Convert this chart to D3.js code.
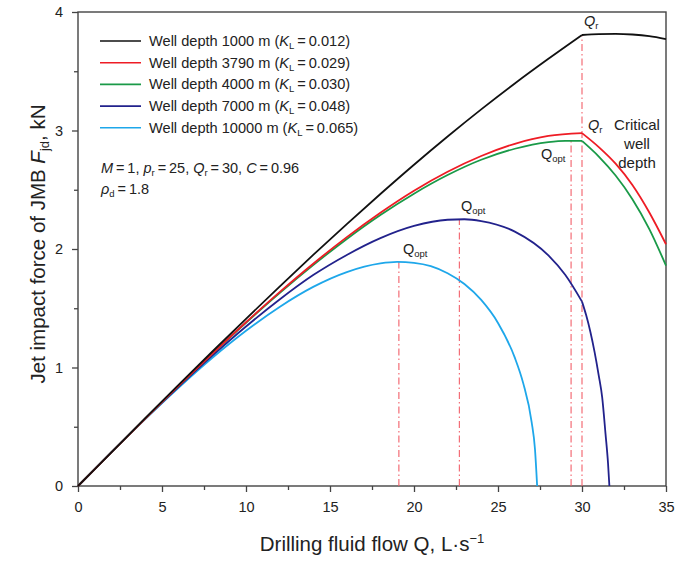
<!DOCTYPE html>
<html><head><meta charset="utf-8">
<script src="https://cdn.jsdelivr.net/npm/d3@7"></script>
<style>
body{margin:0;background:#fff}
text{font-family:"Liberation Sans",Arial,sans-serif;fill:#222}
</style>
</head><body>
<svg id="c" width="690" height="562"></svg>
<script>
// ---- data ----
const xTicks = [0, 5, 10, 15, 20, 25, 30, 35];
const yTicks = [0, 1, 2, 3, 4];

// Well depth 1000 m (K_L = 0.012)
const qBlackA = [0,2,4,6,8,10,12,14,16,18,20,22,24,26,28,30];
const fBlackA = [0,0.286,0.572,0.855,1.135,1.411,1.683,1.950,2.210,2.464,2.711,2.949,3.178,3.397,3.605,3.806];
const qBlackB = [30,31,32,33,34,35];
const fBlackB = [3.806,3.813,3.815,3.810,3.797,3.772];

// Well depth 3790 m (K_L = 0.029)
const qRedA = [0,2,4,6,8,10,12,14,16,18,20,22,24,26,28,30];
const fRedA = [0,0.286,0.569,0.847,1.118,1.382,1.636,1.876,2.100,2.306,2.492,2.652,2.785,2.888,2.954,2.978];
const qRedB = [30,31,32,33,34,35];
const fRedB = [2.978,2.860,2.720,2.540,2.310,2.040];

// Well depth 4000 m (K_L = 0.030)
const qGreenA = [0,2,4,6,8,10,12,14,16,18,20,22,24,26,28,29,30];
const fGreenA = [0,0.286,0.569,0.847,1.117,1.378,1.628,1.864,2.085,2.287,2.467,2.624,2.753,2.846,2.902,2.913,2.912];
const qGreenB = [30,31,32,33,34,35];
const fGreenB = [2.912,2.780,2.620,2.420,2.170,1.860];

// Well depth 7000 m (K_L = 0.048)
const qBlueA = [0,2,4,6,8,10,12,14,16,18,20,22,23,24,26,28,29,30];
const fBlueA = [0,0.286,0.567,0.839,1.100,1.346,1.574,1.780,1.950,2.092,2.195,2.247,2.251,2.236,2.147,1.946,1.782,1.556];
const qBlueB = [30,30.25,30.5,30.75,31,31.2,31.4,31.55,31.63];
const fBlueB = [1.556,1.440,1.300,1.130,0.930,0.750,0.440,0.190,0];

// Well depth 10000 m (K_L = 0.065)
const qCyan = [0,2,4,6,8,10,12,14,16,18,19,20,21,22,23,24,25,26,26.5,27,27.2,27.33];
const fCyan = [0,0.285,0.564,0.831,1.082,1.310,1.511,1.680,1.805,1.878,1.891,1.883,1.855,1.795,1.704,1.570,1.376,1.083,0.868,0.542,0.312,0];

// Q_opt / Q_r markers (dash-dot)
const markQ = [19.1, 22.7, 29.35, 30];
const markF = [1.891, 2.251, 2.913, 3.806];

const seriesNames = ["Well depth 1000 m", "Well depth 3790 m", "Well depth 4000 m", "Well depth 7000 m", "Well depth 10000 m"];
const seriesKL = ["0.012", "0.029", "0.030", "0.048", "0.065"];
const seriesColors = ["#111111", "#ee1c25", "#1a9a48", "#22228c", "#1ea7ea"];

// ---- chart ----
const svg = d3.select("#c");
const x = d3.scaleLinear().domain([0, 35]).range([78, 666]);
const y = d3.scaleLinear().domain([0, 4]).range([486, 12]);
const axisColor = "#444";

// minor ticks
svg.append("g").attr("transform", "translate(0,486)")
  .call(d3.axisBottom(x).tickValues(d3.range(2.5, 35, 5)).tickSize(4).tickFormat(""))
  .call(g => g.select(".domain").remove())
  .selectAll("line").attr("stroke", axisColor).attr("stroke-width", 1.3);
svg.append("g").attr("transform", "translate(78,0)")
  .call(d3.axisLeft(y).tickValues(d3.range(0.5, 4, 1)).tickSize(4).tickFormat(""))
  .call(g => g.select(".domain").remove())
  .selectAll("line").attr("stroke", axisColor).attr("stroke-width", 1.3);

// major axes
const gx = svg.append("g").attr("transform", "translate(0,486)")
  .call(d3.axisBottom(x).tickValues(xTicks).tickSize(6).tickPadding(10).tickFormat(d3.format("d")));
const gy = svg.append("g").attr("transform", "translate(78,0)")
  .call(d3.axisLeft(y).tickValues(yTicks).tickSize(6).tickPadding(9).tickFormat(d3.format("d")));
[gx, gy].forEach(g => {
  g.select(".domain").remove();
  g.selectAll("line").attr("stroke", axisColor).attr("stroke-width", 1.3);
  g.selectAll("text").attr("font-size", 14.5).attr("fill", "#222")
   .attr("font-family", "'Liberation Sans',Arial,sans-serif");
});

// frame
svg.append("rect").attr("x", x(0)).attr("y", y(4))
  .attr("width", x(35) - x(0)).attr("height", y(0) - y(4))
  .attr("fill", "none").attr("stroke", axisColor).attr("stroke-width", 1.4);

// dash-dot markers
markQ.forEach((q, i) => {
  svg.append("line").attr("x1", x(q)).attr("x2", x(q))
    .attr("y1", y(0)).attr("y2", y(markF[i]))
    .attr("stroke", "#f2606a").attr("stroke-width", 1.1)
    .attr("stroke-dasharray", "7,3,1.5,3");
});

// curves
const line = d3.line().x(d => x(d[0])).y(d => y(d[1])).curve(d3.curveMonotoneX);
const pieces = [
  [qBlackA, fBlackA, 0], [qBlackB, fBlackB, 0],
  [qRedA, fRedA, 1], [qRedB, fRedB, 1],
  [qGreenA, fGreenA, 2], [qGreenB, fGreenB, 2],
  [qBlueA, fBlueA, 3], [qBlueB, fBlueB, 3],
  [qCyan, fCyan, 4]
];
[8, 6, 7, 4, 5, 2, 3, 0, 1].forEach(k => {
  const [qs, fs, s] = pieces[k];
  svg.append("path").datum(qs.map((q, i) => [q, fs[i]]))
    .attr("d", line).attr("fill", "none")
    .attr("stroke", seriesColors[s]).attr("stroke-width", 1.8)
    .attr("stroke-linejoin", "round");
});

// legend
const leg = svg.append("g");
seriesNames.forEach((n, i) => {
  const yy = 41 + i * 21.7;
  leg.append("line").attr("x1", 100).attr("x2", 141).attr("y1", yy).attr("y2", yy)
    .attr("stroke", seriesColors[i]).attr("stroke-width", 1.6);
  const t = leg.append("text").attr("x", 149).attr("y", yy + 5).attr("font-size", 14.6);
  t.append("tspan").text(n + " (");
  t.append("tspan").attr("font-style", "italic").text("K");
  t.append("tspan").attr("font-size", 9.5).attr("dy", 3).text("L");
  t.append("tspan").attr("dy", -3).text("\u2009=\u2009" + seriesKL[i] + ")");
});

// parameters text
const p1 = svg.append("text").attr("x", 101).attr("y", 173).attr("font-size", 14.5);
p1.append("tspan").attr("font-style", "italic").text("M");
p1.append("tspan").text("\u2009=\u20091, ");
p1.append("tspan").attr("font-style", "italic").text("p");
p1.append("tspan").attr("font-size", 9.5).attr("dy", 3).text("r");
p1.append("tspan").attr("dy", -3).text("\u2009=\u200925, ");
p1.append("tspan").attr("font-style", "italic").text("Q");
p1.append("tspan").attr("font-size", 9.5).attr("dy", 3).text("r");
p1.append("tspan").attr("dy", -3).text("\u2009=\u200930, ");
p1.append("tspan").attr("font-style", "italic").text("C");
p1.append("tspan").text("\u2009=\u20090.96");
const p2 = svg.append("text").attr("x", 101).attr("y", 194).attr("font-size", 14.5);
p2.append("tspan").attr("font-style", "italic").text("ρ");
p2.append("tspan").attr("font-size", 9.5).attr("dy", 3).text("d");
p2.append("tspan").attr("dy", -3).text("\u2009=\u20091.8");

// annotations
function qLabel(xp, yp, sub, italicQ) {
  const t = svg.append("text").attr("x", xp).attr("y", yp).attr("font-size", 14.5);
  t.append("tspan").attr("font-style", italicQ ? "italic" : "normal").text("Q");
  t.append("tspan").attr("font-size", 9.5).attr("dy", 3).text(sub);
}
qLabel(584, 26, "r", true);
qLabel(588, 130, "r", true);
qLabel(541, 159, "opt", false);
qLabel(461, 211, "opt", false);
qLabel(403, 254, "opt", false);

const crit = svg.append("text").attr("font-size", 15).attr("text-anchor", "middle");
[["Critical", 130], ["well", 149], ["depth", 168]].forEach(([s, yy]) => {
  crit.append("tspan").attr("x", 637).attr("y", yy).text(s);
});

// axis titles
const xt = svg.append("text").attr("x", 372).attr("y", 551)
  .attr("text-anchor", "middle").attr("font-size", 20.5);
xt.append("tspan").text("Drilling fluid flow Q, L·s");
xt.append("tspan").attr("font-size", 13).attr("dy", -8).text("\u22121");

const yt = svg.append("text").attr("transform", "translate(45,244) rotate(-90)")
  .attr("text-anchor", "middle").attr("font-size", 20.5);
yt.append("tspan").text("Jet impact force of JMB ");
yt.append("tspan").attr("font-style", "italic").text("F");
yt.append("tspan").attr("font-size", 13).attr("dy", 4).text("jd");
yt.append("tspan").attr("dy", -4).text(", kN");
</script>
</body></html>
